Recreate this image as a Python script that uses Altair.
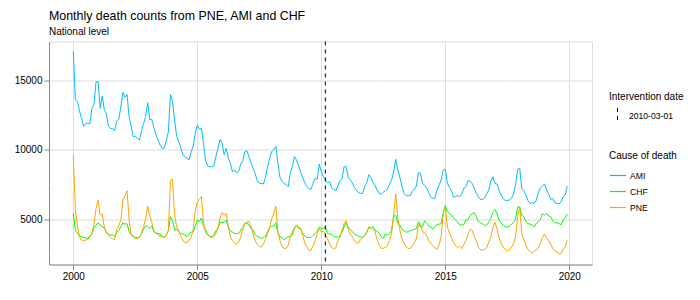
import altair as alt
import pandas as pd

FONT = "Liberation Sans"

years = list(range(2000, 2020))
causes = ["AMI", "CHF", "PNE"]
cause_colors = ["#00BFFF", "#00FF00", "#FFA500"]

ami = [
    17100, 13600, 13500, 12800, 12270, 11700, 11900, 11900, 11900, 13000, 13300, 14900,
    14930, 13000, 13900, 12900, 12600, 11700, 11560, 11550, 11400, 12100, 12200, 13100,
    14150, 13800, 14000, 12400, 11700, 10950, 11000, 10860, 10720, 11400, 11900, 12400,
    13400, 12200, 12200, 11600, 11100, 10720, 10350, 10120, 10120, 10700, 11300, 14000,
    13500, 12160, 11000, 10600, 10190, 9640, 9520, 9400, 9280, 9810, 10290, 11200,
    11800, 11500, 11560, 10480, 9230, 8850, 8800, 8780, 8850, 9520, 10120, 10770,
    10480, 9640, 10120, 9400, 9040, 8440, 8560, 8370, 8440, 8990, 9210, 9880,
    9950, 9520, 9090, 8680, 8320, 7790, 7600, 7600, 7550, 8030, 8800, 9400,
    9880, 10050, 10240, 9040, 8030, 7740, 7570, 7520, 7360, 8320, 8800, 9520,
    9280, 8850, 8410, 8030, 7640, 7380, 7210, 7160, 7600, 7960, 7890, 8990,
    8440, 8080, 7840, 7640, 7720, 7290, 7160, 7070, 7400, 7790, 7890, 8800,
    8800, 8030, 7840, 7640, 7310, 7070, 6920, 6880, 6880, 7360, 7640, 8220,
    8030, 7640, 7450, 7120, 6880, 6830, 6970, 7040, 7190, 7550, 7840, 8410,
    9330, 8560, 8030, 7400, 6880, 6710, 6710, 6710, 7000, 7190, 7400, 8370,
    8320, 7600, 7450, 7260, 6920, 6590, 6510, 6540, 7120, 7480, 7840, 8560,
    8610, 7600, 7310, 7070, 6590, 6640, 6730, 6640, 6830, 7260, 7360, 7800,
    7740, 7600, 7240, 6880, 6640, 6440, 6440, 6540, 6830, 7120, 7720, 8080,
    7600, 7550, 7120, 6760, 6510, 6350, 6370, 6390, 6510, 6830, 7480, 8610,
    8680, 7240, 7070, 6760, 6350, 6150, 6200, 6180, 6350, 6920, 7260, 7400,
    7550, 7120, 6830, 6440, 6510, 6200, 6150, 6110, 6270, 6640, 6760, 7400,
]

chf = [
    5430, 4200, 3990, 3800, 3760, 3700, 3690, 3580, 3750, 3990, 4350, 4600,
    4760, 4590, 4470, 4400, 4100, 3930, 3880, 3880, 3770, 4040, 4200, 4470,
    4760, 4660, 4700, 4110, 3900, 3820, 3700, 3700, 3700, 3990, 4280, 4550,
    4500, 4350, 4550, 4110, 4030, 3990, 3950, 3750, 3700, 3870, 4200, 5200,
    4950, 4230, 4300, 4110, 3990, 3950, 3870, 3750, 3940, 4080, 4110, 4500,
    4950, 4850, 5100, 4500, 4230, 3940, 3800, 3750, 3900, 4180, 4350, 4800,
    4760, 4800, 4950, 4450, 4180, 4080, 4000, 3970, 3970, 4230, 4420, 4710,
    4760, 4590, 4350, 4230, 3890, 3780, 3720, 3630, 3700, 3800, 4110, 4400,
    4520, 4520, 4760, 4040, 3750, 3700, 3530, 3650, 3750, 3800, 3900, 4350,
    4590, 4480, 4350, 3970, 3800, 3700, 3700, 3700, 3850, 3990, 4150, 4450,
    4350, 4350, 4470, 3990, 3950, 3940, 3800, 3750, 3720, 3830, 4060, 4450,
    4760, 4450, 4280, 4100, 3970, 3860, 3800, 3750, 3700, 3850, 4110, 4420,
    4350, 4500, 4230, 4130, 4020, 3750, 3650, 3940, 3880, 3990, 4200, 5200,
    5300, 4700, 4590, 4300, 4180, 4080, 4110, 4180, 4230, 4280, 4330, 4830,
    4450, 4470, 4900, 4720, 4520, 4470, 4300, 4500, 4620, 4660, 4700, 5500,
    6000, 5550, 5450, 5300, 5100, 4950, 4800, 4590, 4590, 4650, 4950, 5000,
    5300, 5400, 5500, 5200, 4850, 4760, 4680, 4560, 4600, 4780, 5070, 5500,
    5700, 5450, 4950, 4720, 4590, 4480, 4450, 4500, 4630, 4800, 5000, 5900,
    5900, 5300, 5200, 4850, 4690, 4660, 4600, 4470, 4720, 4830, 4970, 5430,
    5300, 5450, 5250, 5200, 4900, 4760, 4760, 4700, 4620, 4950, 5100, 5380,
]

pne = [
    9640, 5700, 4500, 3750, 3510, 3480, 3500, 3680, 3750, 3990, 4660, 5800,
    6390, 5310, 5380, 4470, 4000, 3900, 3700, 3600, 3550, 4280, 4550, 4950,
    6400, 6700, 7070, 5000, 3880, 3760, 3630, 3630, 3700, 3990, 4500, 5000,
    5950, 5240, 4800, 4150, 4040, 3870, 3800, 3750, 3690, 3870, 4200, 7800,
    7900, 5300, 4500, 4200, 3780, 3520, 3330, 3320, 3510, 3700, 4250, 5600,
    6250, 6450, 6650, 4750, 4050, 3870, 3750, 3700, 3750, 4000, 4400, 5100,
    5500, 5300, 5430, 4500, 3750, 3450, 3320, 3220, 3350, 3750, 4300, 4710,
    4800, 4850, 4500, 3950, 3450, 3200, 3050, 3000, 3220, 3600, 3990, 4400,
    5050, 5400, 5960, 4100, 3480, 3000, 2910, 2910, 3150, 3750, 4100, 4420,
    4590, 4300, 4350, 3850, 3300, 3050, 2790, 2760, 3100, 3450, 3990, 4350,
    4100, 4150, 3900, 3600, 3250, 2980, 2870, 2950, 3450, 3700, 4200, 4700,
    4900, 4300, 3940, 3750, 3500, 3300, 3300, 3550, 3650, 3850, 4050, 4470,
    4400, 4250, 4150, 3530, 3150, 2910, 2930, 2980, 3100, 3480, 4000, 5300,
    6850, 5100, 4250, 3600, 3300, 3030, 2910, 2910, 3080, 3320, 3600, 4590,
    4700, 4100, 4050, 3850, 3450, 3300, 3100, 2950, 2860, 3150, 3750, 5430,
    5900, 4450, 4050, 3650, 3350, 3100, 2980, 3060, 2900, 3200, 3500, 3900,
    4300, 4200, 3800, 3450, 3000, 2830, 2790, 2830, 2950, 3350, 3750, 4400,
    4800, 4350, 3700, 3280, 3000, 2850, 2740, 2790, 3000, 3250, 3750, 5200,
    5900, 4000, 3550, 3150, 2840, 2700, 2560, 2700, 2790, 2950, 3300, 3700,
    3950, 3700, 3450, 3220, 2900, 2740, 2650, 2560, 2520, 2850, 3000, 3500,
]

x_major = [2000, 2005, 2010, 2015, 2020]
x_minor = [2002.5, 2007.5, 2012.5, 2017.5]
y_major = [5000, 10000, 15000]
y_minor = [2500, 7500, 12500, 17500]
intervention_label = "2010-03-01"
intervention_t = 2010 + 59 / 365

# ---- build long table ----
rows = []
series = {"AMI": ami, "CHF": chf, "PNE": pne}
for c in causes:
    vals = series[c]
    for i, v in enumerate(vals):
        y = years[i // 12]
        rows.append({"t": y + (i % 12) / 12, "deaths": v, "cause": c})
df = pd.DataFrame(rows)

x_scale = alt.Scale(domain=[1999.02, 2020.915], nice=False, zero=False)
y_scale = alt.Scale(domain=[1753, 17814], nice=False, zero=False)

x_axis = alt.Axis(values=x_major, format="d", title=None, grid=True)
y_axis = alt.Axis(values=y_major, format="d", title=None, grid=True)

LEG_X = 560
KEY = 16

common_leg = dict(
    orient="none", legendX=LEG_X, padding=0, rowPadding=2, symbolSize=KEY * KEY,
    labelOffset=3, labelFontSize=8.6, labelFont=FONT, labelColor="black",
    titleFontSize=10, titleFont=FONT, titleColor="black", titleFontWeight="normal",
    titlePadding=6, labelLimit=200,
)

X = alt.X("t:Q", scale=x_scale, axis=x_axis)
Y = alt.Y("deaths:Q", scale=y_scale, axis=y_axis)

# minor grid lines
xminor = alt.Chart(pd.DataFrame({"v": x_minor})).mark_rule(
    color="white", strokeWidth=0.5
).encode(x=alt.X("v:Q", scale=x_scale, axis=x_axis))

yminor = alt.Chart(pd.DataFrame({"v": y_minor})).mark_rule(
    color="white", strokeWidth=0.5
).encode(y=alt.Y("v:Q", scale=y_scale, axis=y_axis))

lines = alt.Chart(df).mark_line(strokeWidth=1).encode(
    x=X, y=Y,
    color=alt.Color(
        "cause:N",
        scale=alt.Scale(domain=causes, range=cause_colors),
        legend=alt.Legend(
            title="Cause of death", legendY=109, symbolType="stroke",
            symbolStrokeWidth=1.2, **common_leg,
        ),
    ),
)

vline = alt.Chart(pd.DataFrame({"t": [intervention_t], "lab": [intervention_label]})).mark_rule(
    color="black", strokeWidth=1
).encode(
    x=alt.X("t:Q", scale=x_scale, axis=x_axis),
    strokeDash=alt.StrokeDash(
        "lab:N",
        scale=alt.Scale(domain=[intervention_label], range=[[4, 4]]),
        legend=alt.Legend(
            title="Intervention date", legendY=50, symbolType="M0,-1L0,1",
            symbolStrokeColor="black", symbolStrokeWidth=1, **common_leg,
        ),
    ),
)

chart = alt.layer(xminor, yminor, lines, vline).properties(
    width=543,
    height=223,
    autosize=alt.AutoSizeParams(type="none"),
    padding={"left": 41, "top": 33.5, "right": 100, "bottom": 27.5},
    title=alt.Title(
        text="Monthly death counts from PNE, AMI and CHF",
        subtitle="National level",
        anchor="start", frame="group", fontSize=12.4, subtitleFontSize=10,
        font=FONT, subtitleFont=FONT, fontWeight="normal", color="black",
        subtitleColor="black", offset=4, subtitlePadding=5,
    ),
).configure_view(
    fill="#EBEBEB", stroke=None
).configure_axis(
    domain=False, gridColor="white", gridWidth=1, tickColor="#333333",
    tickSize=2.7, tickWidth=1, labelFont=FONT, labelFontSize=8.6,
    labelColor="#4D4D4D", labelPadding=2,
).configure(background="white")

chart.save("out.html", embed_options={"renderer": "svg", "actions": False})
